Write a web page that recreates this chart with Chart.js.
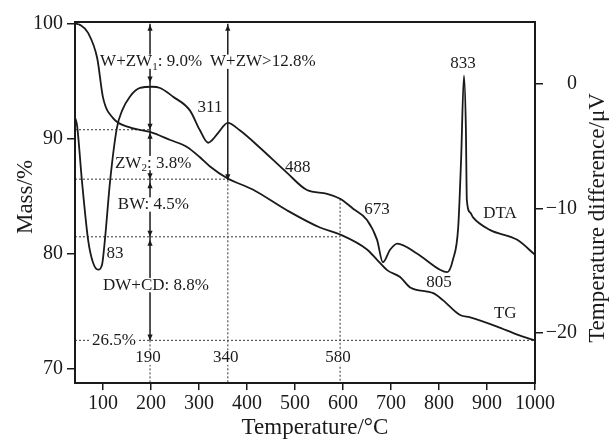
<!DOCTYPE html>
<html>
<head>
<meta charset="utf-8">
<script src="https://cdn.jsdelivr.net/npm/chart.js@4.4.0/dist/chart.umd.min.js"></script>
<style>
  html, body { margin: 0; padding: 0; background: #fff; }
  #wrap { width: 610px; height: 439px; }
</style>
</head>
<body>
<div id="wrap"><canvas id="chart" width="610" height="439"></canvas></div>
<script>
// TG curve (mass, left axis)
const tgTemp = [42, 52, 69, 88, 100, 121, 156, 198, 240, 275, 302, 323, 358, 412, 483, 552, 594, 650, 671, 692, 719, 740, 788, 808, 844, 865, 921, 963, 1000];
const tgMass = [100, 99.9, 99.2, 97.0, 93.6, 91.8, 91.0, 90.6, 89.9, 89.3, 88.4, 87.6, 86.6, 85.6, 83.8, 82.3, 81.7, 80.4, 79.5, 78.6, 78.0, 77.1, 76.6, 76.0, 74.7, 74.5, 73.7, 73.0, 72.5];

// DTA curve (signal, right axis)
const dtaTemp = [42, 46, 56, 69, 79, 90, 98, 104, 115, 129, 140, 156, 177, 202, 219, 246, 281, 302, 319, 327, 340, 360, 385, 427, 483, 525, 567, 594, 621, 650, 671, 683, 698, 713, 754, 802, 817, 829, 840, 846, 852, 856, 858, 865, 871, 906, 963, 1000];
const dtaSignal = [-2.7, -3.3, -7.7, -12.5, -14.3, -14.9, -14.5, -12.5, -7.7, -3.5, -2.1, -1.0, -0.3, -0.2, -0.3, -1.0, -2.1, -3.7, -4.7, -4.5, -3.9, -3.1, -3.7, -5.1, -7.1, -8.5, -8.8, -9.2, -10.0, -10.9, -12.5, -14.3, -13.3, -12.8, -13.6, -14.9, -15.1, -14.1, -11.5, -6.1, 0.7, -3.5, -9.3, -10.3, -10.7, -11.7, -12.5, -13.7];

// axis ticks
const xTicks = [100, 200, 300, 400, 500, 600, 700, 800, 900, 1000];
const massTicks = [70, 80, 90, 100];
const signalTicks = [-20, -10, 0];

// mass-loss steps
const stepTemps = [198, 360, 594];
const stepLabels = ['190', '340', '580'];
const stepLabelMass = 71.0;
const levelMass = [90.8, 86.5, 81.5, 72.5];
const levelEndTemp = [198, 360, 594, 1000];
const arrowMass = [100, 94.9, 90.8, 86.5, 81.5, 72.5];
const arrowHeads = ['up', 'down', 'both', 'both', 'both', 'down'];
const arrow2Mass = [100, 86.4];
const dtaAt580 = -9.2;

// text notes
const massNoteText = ['W+ZW_1: 9.0%', 'W+ZW>12.8%', 'ZW_2: 3.8%', 'BW: 4.5%', 'DW+CD: 8.8%', '26.5%'];
const massNoteTemp = [94, 323, 125, 131, 100, 77];
const massNoteMass = [96.7, 96.7, 87.9, 84.3, 77.3, 72.5];
const peakNoteText = ['83', '311', '488', '673', '833', '805', 'DTA', 'TG'];
const peakNoteTemp = [125, 323, 506, 671, 850, 800, 927, 938];
const peakNoteSignal = [-13.6, -1.9, -6.7, -10.1, 1.7, -15.9, -10.4, -18.4];

const SERIF = '"Liberation Serif", "DejaVu Serif", serif';
const INK = '#1a1a1a';

function serifFont(size) {
    return size + 'px ' + SERIF;
}

function seg(ctx, x1, y1, x2, y2) {
    ctx.beginPath();
    ctx.moveTo(x1, y1);
    ctx.lineTo(x2, y2);
    ctx.stroke();
}

// dir 1 = pointing down, -1 = pointing up
function head(ctx, px, tipY, dir) {
    ctx.beginPath();
    ctx.moveTo(px, tipY);
    ctx.lineTo(px - 2.6, tipY - dir * 6);
    ctx.lineTo(px + 2.6, tipY - dir * 6);
    ctx.closePath();
    ctx.fill();
}

// "ZW_2" -> ZW with subscript 2
function parseParts(str) {
    return str.split(/_(\d)/).map((t, i) => ({ t: t, sub: i % 2 === 1 })).filter(p => p.t);
}

function drawNote(ctx, px, py, str, size, align) {
    const parts = parseParts(str);
    const widths = parts.map(p => {
        ctx.font = serifFont(p.sub ? size * 0.65 : size);
        return ctx.measureText(p.t).width;
    });
    const total = widths.reduce((a, b) => a + b, 0);
    let left = align === 'center' ? px - total / 2 : px;
    ctx.fillStyle = '#fff';
    ctx.fillRect(left - 1, py - size * 0.42, total + 2, size * 0.84);
    ctx.fillStyle = INK;
    ctx.textBaseline = 'middle';
    ctx.textAlign = 'left';
    parts.forEach((p, i) => {
        ctx.font = serifFont(p.sub ? size * 0.65 : size);
        ctx.fillText(p.t, left, p.sub ? py + size * 0.3 : py);
        left += widths[i];
    });
}

const notesPlugin = {
    id: 'thermoNotes',
    beforeDatasetsDraw(chart) {
        const { ctx, chartArea: area, scales: { x, y, y1 } } = chart;
        ctx.save();

        // dotted guides
        ctx.strokeStyle = '#555';
        ctx.lineWidth = 1.2;
        ctx.setLineDash([2, 2]);
        levelMass.forEach((m, i) => {
            const py = y.getPixelForValue(m);
            seg(ctx, area.left, py, x.getPixelForValue(levelEndTemp[i]), py);
        });
        const xa = x.getPixelForValue(stepTemps[0]);
        const xb = x.getPixelForValue(stepTemps[1]);
        const xc = x.getPixelForValue(stepTemps[2]);
        seg(ctx, xa, y.getPixelForValue(arrowMass[arrowMass.length - 1]), xa, area.bottom);
        seg(ctx, xb, y.getPixelForValue(arrow2Mass[1]), xb, area.bottom);
        seg(ctx, xc, y1.getPixelForValue(dtaAt580), xc, area.bottom);
        ctx.setLineDash([]);

        // solid arrows
        ctx.strokeStyle = INK;
        ctx.fillStyle = INK;
        ctx.lineWidth = 1.5;
        seg(ctx, xa, y.getPixelForValue(arrowMass[0]), xa, y.getPixelForValue(arrowMass[arrowMass.length - 1]));
        arrowMass.forEach((m, i) => {
            const py = y.getPixelForValue(m);
            if (arrowHeads[i] === 'up') head(ctx, xa, py + 1, -1);
            if (arrowHeads[i] === 'down' || arrowHeads[i] === 'both') head(ctx, xa, py, 1);
            if (arrowHeads[i] === 'both') head(ctx, xa, py + 3, -1);
        });
        seg(ctx, xb, y.getPixelForValue(arrow2Mass[0]), xb, y.getPixelForValue(arrow2Mass[1]));
        head(ctx, xb, y.getPixelForValue(arrow2Mass[0]) + 1, -1);
        head(ctx, xb, y.getPixelForValue(arrow2Mass[1]), 1);

        // texts
        massNoteText.forEach((s, i) => {
            drawNote(ctx, x.getPixelForValue(massNoteTemp[i]), y.getPixelForValue(massNoteMass[i]), s, 17, 'left');
        });
        stepLabels.forEach((s, i) => {
            drawNote(ctx, x.getPixelForValue(stepTemps[i]) - 2, y.getPixelForValue(stepLabelMass), s, 17, 'center');
        });
        peakNoteText.forEach((s, i) => {
            drawNote(ctx, x.getPixelForValue(peakNoteTemp[i]), y1.getPixelForValue(peakNoteSignal[i]), s, 17, 'center');
        });
        ctx.restore();
    },
    afterDraw(chart) {
        const { ctx, chartArea: area } = chart;
        ctx.save();
        ctx.strokeStyle = INK;
        ctx.lineWidth = 2;
        ctx.strokeRect(area.left, area.top, area.right - area.left, area.bottom - area.top);

        ctx.fillStyle = INK;
        ctx.font = serifFont(23);
        ctx.textAlign = 'center';
        ctx.textBaseline = 'middle';
        ctx.fillText('Temperature/\u00B0C', 315, 428);

        ctx.translate(26, 197);
        ctx.rotate(-Math.PI / 2);
        ctx.fillText('Mass/%', 0, 0);
        ctx.restore();

        ctx.save();
        ctx.fillStyle = INK;
        ctx.font = serifFont(23);
        ctx.textAlign = 'center';
        ctx.textBaseline = 'middle';
        ctx.translate(598, 218);
        ctx.rotate(-Math.PI / 2);
        ctx.fillText('Temperature difference/\u03BCV', 0, 0);
        ctx.restore();
    }
};

function tickGrid(len) {
    return { drawOnChartArea: false, drawTicks: true, tickLength: len, color: INK, lineWidth: 1.5, tickWidth: 1.5 };
}

const tickFont = { family: SERIF, size: 20 };

new Chart(document.getElementById('chart').getContext('2d'), {
    type: 'line',
    data: {
        datasets: [
            {
                label: 'TG',
                data: tgTemp.map((t, i) => ({ x: t, y: tgMass[i] })),
                yAxisID: 'y',
                borderColor: INK,
                borderWidth: 1.8,
                pointRadius: 0,
                cubicInterpolationMode: 'monotone'
            },
            {
                label: 'DTA',
                data: dtaTemp.map((t, i) => ({ x: t, y: dtaSignal[i] })),
                yAxisID: 'y1',
                borderColor: INK,
                borderWidth: 1.8,
                pointRadius: 0,
                cubicInterpolationMode: 'monotone'
            }
        ]
    },
    options: {
        responsive: false,
        animation: false,
        layout: { padding: { top: 22, right: 33, left: 0, bottom: 0 } },
        plugins: { legend: { display: false }, tooltip: { enabled: false } },
        scales: {
            x: {
                type: 'linear',
                min: 41.7,
                max: 1000,
                afterBuildTicks: s => { s.ticks = xTicks.map(v => ({ value: v })); },
                afterFit: s => { s.height = 56; },
                grid: tickGrid(7),
                border: { color: INK, width: 2 },
                ticks: { font: tickFont, color: INK, padding: 2, maxRotation: 0, autoSkip: false, callback: v => String(v) }
            },
            y: {
                position: 'left',
                min: 68.8,
                max: 100.15,
                afterBuildTicks: s => { s.ticks = massTicks.map(v => ({ value: v })); },
                afterFit: s => { s.width = 75; },
                grid: tickGrid(8),
                border: { color: INK, width: 2 },
                ticks: { font: tickFont, color: INK, padding: 4, callback: v => String(v) }
            },
            y1: {
                position: 'right',
                min: -24,
                max: 5,
                afterBuildTicks: s => { s.ticks = signalTicks.map(v => ({ value: v })); },
                afterFit: s => { s.width = 42; },
                grid: tickGrid(8),
                border: { color: INK, width: 2 },
                ticks: {
                    font: tickFont,
                    color: INK,
                    crossAlign: 'far',
                    callback: v => v < 0 ? '\u2212' + (-v) : String(v)
                }
            }
        }
    },
    plugins: [notesPlugin]
});
</script>
</body>
</html>
